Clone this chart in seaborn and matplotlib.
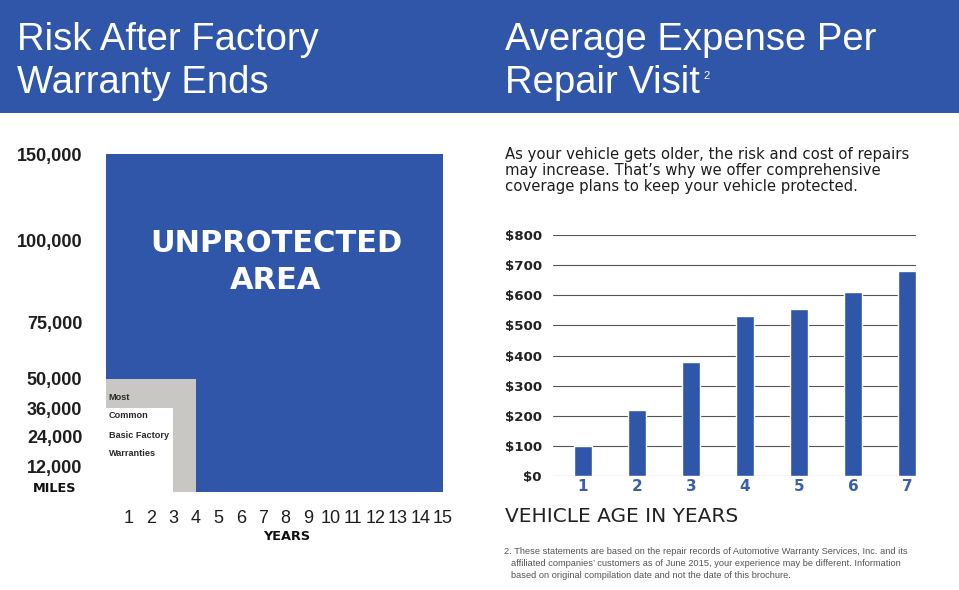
import numpy as np
import pandas as pd
import matplotlib
matplotlib.use("Agg")
import matplotlib.pyplot as plt
from matplotlib.patches import Rectangle
import seaborn as sns

# ---------------- data ----------------
# Left chart: warranty regions (years, miles)
region_names = ["Unprotected Area", "Extended", "Most Common Basic Factory Warranties"]
region_years = [15, 4, 3]
region_miles = [150000, 50000, 36000]
mile_ticks = [12000, 24000, 36000, 50000, 75000, 100000, 150000]
mile_labels = ["12,000", "24,000", "36,000", "50,000", "75,000", "100,000", "150,000"]
year_ticks = list(range(1, 16))

# Right chart: average expense per repair visit by vehicle age
ages = ["1", "2", "3", "4", "5", "6", "7"]
costs = [100, 220, 380, 530, 555, 610, 680]
cost_ticks = [0, 100, 200, 300, 400, 500, 600, 700, 800]

# ---------------- style ----------------
sns.set_theme(style="white")
plt.rcParams["font.family"] = ["Liberation Sans", "DejaVu Sans"]

BLUE = "#2f56a8"
GREY = "#c9c7c4"
DARK = "#1e1e1e"

W, H = 959, 590
fig = plt.figure(figsize=(W / 100, H / 100), dpi=100)
fig.patch.set_facecolor("white")


def fx(x):
    return x / W


def fy(y):
    return 1 - y / H


# header band
fig.patches.append(Rectangle((0, fy(113)), 1, 113 / H, transform=fig.transFigure,
                             facecolor=BLUE, edgecolor="none", zorder=0))
tkw = dict(color="white", fontsize=27.5, va="baseline", ha="left")
fig.text(fx(17), fy(50), "Risk After Factory", **tkw)
fig.text(fx(17), fy(93), "Warranty Ends", **tkw)
fig.text(fx(505), fy(50), "Average Expense Per", **tkw)
fig.text(fx(505), fy(93), "Repair Visit", **tkw)
fig.text(fx(703), fy(79), "2", color="white", fontsize=8, va="baseline", ha="left")

# ---------------- left chart ----------------
ax1 = fig.add_axes([fx(106), fy(492), (443 - 106) / W, (492 - 154) / H])
scale_vals = [0] + mile_ticks
scale_pos = [0, 26, 55, 84, 113, 169, 252, 338]


def fwd(v):
    return np.interp(v, scale_vals, scale_pos)


def inv(p):
    return np.interp(p, scale_pos, scale_vals)


ax1.set_yscale("function", functions=(fwd, inv))
colors = [BLUE, GREY, "white"]
for yrs, mls, c in zip(region_years, region_miles, colors):
    ax1.bar(0, mls, width=yrs, align="edge", color=c, edgecolor="none", zorder=2)
ax1.set_xlim(0, 15)
ax1.set_ylim(0, 150000)
ax1.set_yticks(mile_ticks)
ax1.set_yticklabels(mile_labels, fontsize=13, fontweight="bold", color=DARK)
ax1.set_xticks(year_ticks)
ax1.set_xticklabels([str(v) for v in year_ticks], fontsize=13, color=DARK)
ax1.tick_params(axis="y", length=0, pad=17)
ax1.tick_params(axis="x", length=0, pad=13)
for s in ax1.spines.values():
    s.set_visible(False)
ax1.set_facecolor("white")

fig.text(fx(276), fy(262), "UNPROTECTED\nAREA", color="white", fontsize=22,
         fontweight="bold", family="DejaVu Sans", ha="center", va="center",
         linespacing=1.38, zorder=5)

small = dict(fontsize=6.6, fontweight="bold", color="#2a2a2a", ha="left",
             va="center", zorder=4)
fig.text(fx(108), fy(397), "Most", **small)
fig.text(fx(109), fy(416), "Common", **small)
fig.text(fx(109), fy(435), "Basic Factory", **small)
fig.text(fx(109), fy(453), "Warranties", **small)

fig.text(fx(55), fy(489), "MILES", family="DejaVu Sans", fontweight="bold",
         fontsize=9.3, color="#111", ha="center", va="center")
fig.text(fx(287), fy(537), "YEARS", family="DejaVu Sans", fontweight="bold",
         fontsize=9.3, color="#111", ha="center", va="center")

# ---------------- right chart ----------------
para_lines = ["As your vehicle gets older, the risk and cost of repairs",
              "may increase. That\u2019s why we offer comprehensive",
              "coverage plans to keep your vehicle protected."]
for i, line in enumerate(para_lines):
    fig.text(fx(505), fy(155 + 16 * i), line, family="DejaVu Sans", fontsize=10.7,
             color=DARK, ha="left", va="center")

ax2 = fig.add_axes([fx(553), fy(476), (916 - 553) / W, (476 - 235) / H])
df = pd.DataFrame({"age": ages, "cost": costs})
sns.barplot(data=df, x="age", y="cost", color=BLUE, saturation=1, width=0.333,
            ax=ax2, zorder=3)
ax2.set_xlim(-0.556, 6.167)
ax2.set_ylim(0, 800)
ax2.set_yticks(cost_ticks)
ax2.set_yticklabels([f"${v}" for v in cost_ticks], fontsize=9.6,
                    fontweight="bold", family="DejaVu Sans", color="#222")
ax2.set_xticks(range(len(ages)))
ax2.set_xticklabels(ages, fontsize=11, fontweight="bold", family="DejaVu Sans",
                    color="#3a5fae")
ax2.tick_params(axis="y", length=0, pad=8)
ax2.tick_params(axis="x", length=0, pad=2)
ax2.yaxis.grid(True, color="#555555", lw=0.8, zorder=0)
ax2.xaxis.grid(False)
ax2.set_axisbelow(True)
ax2.set_xlabel("")
ax2.set_ylabel("")
for s in ax2.spines.values():
    s.set_visible(False)
ax2.set_facecolor("none")

fig.text(fx(505), fy(517), "VEHICLE AGE IN YEARS", family="DejaVu Sans",
         fontsize=14.5, color="#222", ha="left", va="center")

foot_kw = dict(fontsize=6.65, color="#555", ha="left", va="center")
fig.text(fx(504), fy(551), "2. These statements are based on the repair records of "
         "Automotive Warranty Services, Inc. and its", **foot_kw)
fig.text(fx(511), fy(564), "affiliated companies\u2019 customers as of June 2015, "
         "your experience may be different. Information", **foot_kw)
fig.text(fx(511), fy(576), "based on original compilation date and not the date "
         "of this brochure.", **foot_kw)

fig.savefig("out.png", dpi=100, facecolor="white")
